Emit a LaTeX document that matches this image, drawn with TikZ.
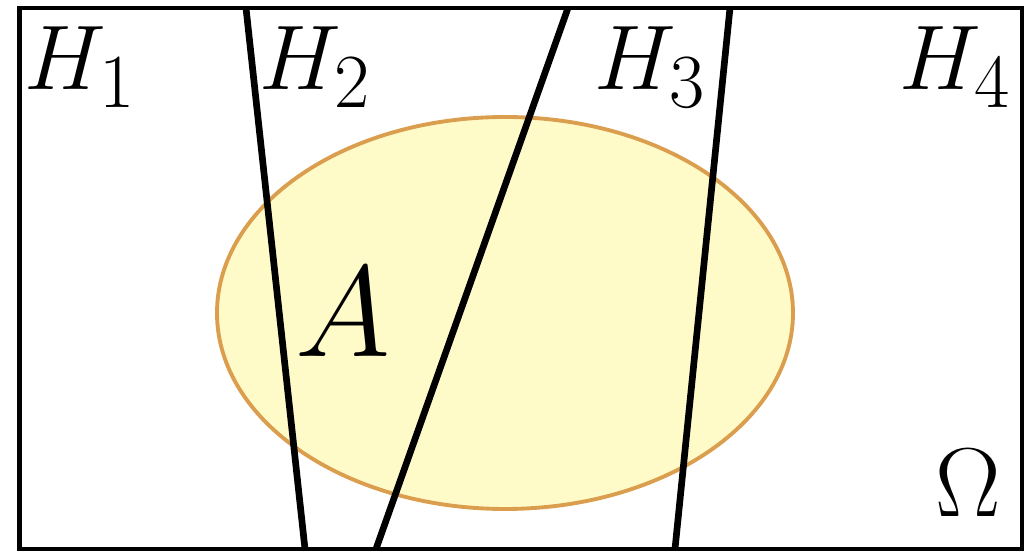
\documentclass[tikz,border=0pt]{standalone}
\usepackage{amsmath,amssymb}
\usepackage{graphicx}
\usepackage{xcolor}
\usepackage{tikz}
\usetikzlibrary{positioning,calc}
\definecolor{setfill}{RGB}{255,251,200}
\definecolor{setline}{RGB}{218,158,78}
\newcommand{\biglab}[2]{\scalebox{#1}{\Huge$#2$}}
\tikzset{
  frame/.style={draw=black,line width=1.3pt},
  cutline/.style={draw=black,line width=1.9pt},
  eventset/.style={draw=setline,fill=setfill,line width=1.1pt},
  biglabel/.style={inner sep=0pt,anchor=base west},
}
\begin{document}
\begin{tikzpicture}[x=0.01cm,y=-0.01cm]
  \useasboundingbox (0,0) rectangle (1026,552);
  % sample space
  \coordinate (nw) at (19.5,8);
  \coordinate (se) at (1022,549);
  % event A
  \draw[eventset] (505,313) ellipse [x radius=288,y radius=196];
  \draw[frame] (nw) rectangle (se);
  % partition lines
  \coordinate (p1t) at (246,8);  \coordinate (p1b) at (305,549);
  \coordinate (p2t) at (568,8);  \coordinate (p2b) at (376,549);
  \coordinate (p3t) at (730,8);  \coordinate (p3b) at (675,549);
  \draw[cutline] (p1t) -- (p1b);
  \draw[cutline] (p2t) -- (p2b);
  \draw[cutline] (p3t) -- (p3b);
  % labels
  \node[biglabel] (h1) at (24,90) {\biglab{1.05}{H_1}};
  \node[biglabel] (h2) at (259,90) {\biglab{1.05}{H_2}};
  \node[biglabel] (h3) at (594,90) {\biglab{1.05}{H_3}};
  \node[biglabel] (h4) at (899,90) {\biglab{1.05}{H_4}};
  \node[biglabel] (a) at (295,357) {\biglab{1.48}{A}};
  \node[biglabel] (om) at (935,517) {\biglab{1.12}{\Omega}};
\end{tikzpicture}
\end{document}
